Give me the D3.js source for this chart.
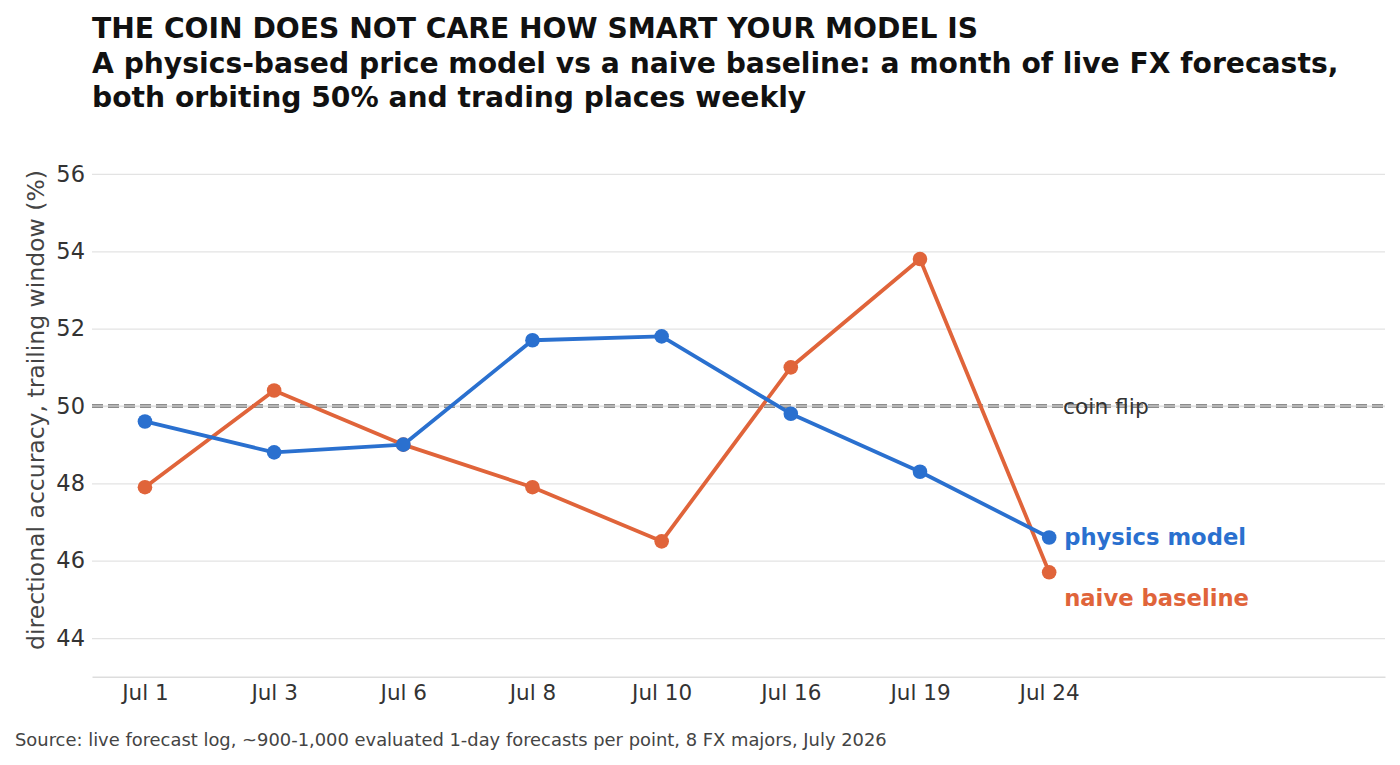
<!DOCTYPE html>
<html>
<head>
<meta charset="utf-8">
<script src="https://cdn.jsdelivr.net/npm/d3@7"></script>
<style>
  body { margin: 0; background: #fff; }
  svg { font-family: "DejaVu Sans", sans-serif; display: block; }
</style>
</head>
<body>
<svg id="chart" width="1400" height="765"></svg>
<script>
var dates = ['Jul 1', 'Jul 3', 'Jul 6', 'Jul 8', 'Jul 10', 'Jul 16', 'Jul 19', 'Jul 24']
var physics = [49.6, 48.8, 49.0, 51.7, 51.8, 49.8, 48.3, 46.6]
var naive = [47.9, 50.4, 49.0, 47.9, 46.5, 51.0, 53.8, 45.7]
var yTicks = [44, 46, 48, 50, 52, 54, 56]
var coinFlip = 50

var series = [
  {key: 'naive baseline', values: naive, color: '#e0643a', labelDy: 26},
  {key: 'physics model', values: physics, color: '#2a70cf', labelDy: 0},
]

var svg = d3.select('#chart')
var x = d3.scaleLinear().domain([-0.41, 9.6]).range([92, 1385])
var y = d3.scaleLinear().domain([43, 57]).range([676.7, 135.3])

// titles
var titles = [
  'THE COIN DOES NOT CARE HOW SMART YOUR MODEL IS',
  'A physics-based price model vs a naive baseline: a month of live FX forecasts,',
  'both orbiting 50% and trading places weekly',
]
svg.selectAll('text.title').data(titles).join('text')
  .attr('class', 'title')
  .attr('x', 92)
  .attr('y', (d, i) => 38 + i * 34.5)
  .attr('font-size', 28.2)
  .attr('font-weight', 'bold')
  .attr('fill', '#111')
  .text(d => d)

// grid + y ticks
var yAxis = d3.axisLeft(y).tickValues(yTicks).tickSize(-(x.range()[1] - x.range()[0])).tickPadding(7)
svg.append('g')
  .attr('transform', `translate(${x.range()[0]},0)`)
  .call(yAxis)
  .call(g => g.select('.domain').remove())
  .call(g => g.selectAll('.tick line').attr('stroke', '#e3e3e3').attr('stroke-width', 1.3))
  .call(g => g.selectAll('.tick text').attr('font-size', 22.5).attr('fill', '#333').attr('font-family', 'DejaVu Sans'))

// x axis
var xAxis = d3.axisBottom(x).tickValues(d3.range(dates.length)).tickFormat(i => dates[i]).tickSize(0).tickPadding(8)
svg.append('g')
  .attr('transform', `translate(0,${y(43)})`)
  .call(xAxis)
  .call(g => g.select('.domain').attr('stroke', '#ddd').attr('stroke-width', 1.5))
  .call(g => g.selectAll('.tick text').attr('font-size', 21.5).attr('fill', '#333').attr('font-family', 'DejaVu Sans'))

// y label
svg.append('text')
  .attr('transform', `translate(44,${y(50) + 4}) rotate(-90)`)
  .attr('text-anchor', 'middle')
  .attr('font-size', 23.5)
  .attr('fill', '#444')
  .text('directional accuracy, trailing window (%)')

// coin flip line
svg.append('line')
  .attr('x1', x.range()[0]).attr('x2', x.range()[1])
  .attr('y1', y(coinFlip)).attr('y2', y(coinFlip))
  .attr('stroke', '#8c8c8c').attr('stroke-width', 4).attr('stroke-dasharray', '11 5')
svg.append('line')
  .attr('x1', x.range()[0]).attr('x2', x.range()[1])
  .attr('y1', y(coinFlip)).attr('y2', y(coinFlip))
  .attr('stroke', '#e0e0e0').attr('stroke-width', 1)

svg.append('text')
  .attr('x', 1063).attr('y', y(coinFlip)).attr('dy', '0.35em')
  .attr('font-size', 21.8).attr('fill', '#333')
  .text('coin flip')

// series
var line = d3.line().x((d, i) => x(i)).y(d => y(d))
var g = svg.selectAll('g.series').data(series).join('g').attr('class', 'series')
g.append('path')
  .attr('d', d => line(d.values))
  .attr('fill', 'none').attr('stroke', d => d.color).attr('stroke-width', 3.8)
  .attr('stroke-linejoin', 'round')
g.selectAll('circle').data(d => d.values.map(v => ({v, color: d.color}))).join('circle')
  .attr('cx', (d, i) => x(i)).attr('cy', d => y(d.v)).attr('r', 7.3)
  .attr('fill', d => d.color)
g.append('text')
  .attr('x', x(dates.length - 1) + 15)
  .attr('y', d => y(d.values[d.values.length - 1]) + d.labelDy)
  .attr('dy', '0.35em')
  .attr('font-size', 22.7).attr('font-weight', 'bold')
  .attr('fill', d => d.color)
  .text(d => d.key)

// source
svg.append('text')
  .attr('x', 15).attr('y', 746)
  .attr('font-size', 17.9).attr('fill', '#444')
  .text('Source: live forecast log, ~900-1,000 evaluated 1-day forecasts per point, 8 FX majors, July 2026')
</script>
</body>
</html>
